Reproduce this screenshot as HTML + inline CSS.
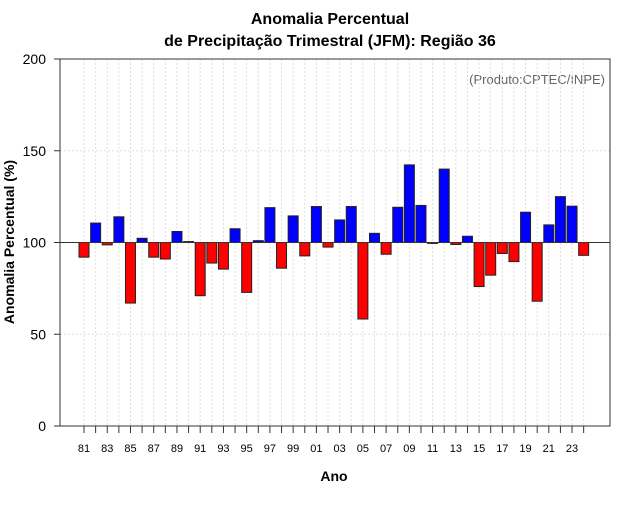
<!DOCTYPE html>
<html><head><meta charset="utf-8"><style>
body{margin:0;background:#fff}
svg text{font-family:"Liberation Sans",sans-serif}
</style></head><body>
<svg id="chart" width="640" height="500" xmlns="http://www.w3.org/2000/svg">
<rect width="640" height="500" fill="#fff"/>
<text x="330" y="24" text-anchor="middle" font-size="16" font-weight="bold">Anomalia Percentual</text>
<text x="330" y="46" text-anchor="middle" font-size="16" font-weight="bold">de Precipitação Trimestral (JFM): Região 36</text>
<text x="605" y="84" text-anchor="end" font-size="13" fill="#666">(Produto:CPTEC/INPE)</text>
<text x="334" y="481" text-anchor="middle" font-size="14" font-weight="bold">Ano</text>
<text transform="translate(14,242) rotate(-90)" text-anchor="middle" font-size="14" font-weight="bold">Anomalia Percentual (%)</text>
<g id="grid"></g><g id="bars"></g><g id="axes"></g>
</svg>
<script>
const years=[1981,1982,1983,1984,1985,1986,1987,1988,1989,1990,1991,1992,1993,1994,1995,1996,1997,1998,1999,2000,2001,2002,2003,2004,2005,2006,2007,2008,2009,2010,2011,2012,2013,2014,2015,2016,2017,2018,2019,2020,2021,2022,2023,2024];
const values=[92,110.6,98.7,114,67,102.3,92,91,106,100.5,71,88.8,85.5,107.5,72.8,101,119,86,114.5,92.7,119.6,97.5,112.3,119.6,58.3,105,93.6,119.2,142.3,120.2,99.5,140,98.9,103.4,76,82.2,94,89.6,116.5,68,109.6,125,119.8,93];
const yTicks=[0,50,100,150,200];
const NS='http://www.w3.org/2000/svg';
const L=60,R=610,T=59,B=426;
function x(yr){return 84+(yr-1981)*11.62;}
function y(v){return B-(v/200)*(B-T);}
function mk(tag,at,p){const e=document.createElementNS(NS,tag);for(const k in at)e.setAttribute(k,at[k]);p.appendChild(e);return e;}
const grid=document.getElementById('grid'),bars=document.getElementById('bars'),axes=document.getElementById('axes');
years.forEach(yr=>{const g=mk('line',{x1:x(yr),x2:x(yr),y1:T,y2:B,stroke:'#ddd','stroke-dasharray':'2,2'},grid);

});
yTicks.forEach(v=>{const g=mk('line',{x1:L,x2:R,y1:y(v),y2:y(v),stroke:'#ddd','stroke-dasharray':'2,2'},grid);


const t=mk('line',{x1:L-6,x2:L,y1:y(v),y2:y(v),stroke:'#333'},axes);


const lb=mk('text',{x:L-14,y:y(v)+5,'text-anchor':'end','font-size':14},axes);lb.textContent=v;

});
years.forEach((yr,i)=>{const v=values[i];const top=Math.min(y(v),y(100)),h=Math.abs(y(v)-y(100));
const b=mk('rect',{x:x(yr)-5,y:top,width:10,height:Math.max(h,0.5),fill:v>=100?'#0000ff':'#ff0000',stroke:'#222','stroke-width':1},bars);


const t=mk('line',{x1:x(yr),x2:x(yr),y1:B,y2:B+7,stroke:'#333'},axes);


if(yr%2===1){const lb=mk('text',{x:x(yr),y:452,'text-anchor':'middle','font-size':11},axes);lb.textContent=String(yr).slice(2);

}});
const bl=mk('line',{x1:L,x2:R,y1:y(100),y2:y(100),stroke:'#333'},axes);


const fr=mk('rect',{x:L,y:T,width:R-L,height:B-T,fill:'none',stroke:'#333'},axes);


</script>
</body></html>
